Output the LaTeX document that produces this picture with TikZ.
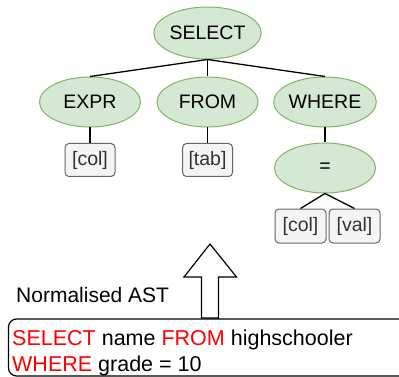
\documentclass[tikz,border=0pt]{standalone}
\usepackage{fontspec}
\setmainfont{Liberation Sans}
\usetikzlibrary{shapes.geometric}
\definecolor{gfill}{HTML}{D5E8D4}
\definecolor{gdraw}{HTML}{82B366}
\definecolor{bfill}{HTML}{F5F5F5}
\definecolor{bdraw}{HTML}{666666}
\definecolor{btext}{HTML}{333333}
\definecolor{kw}{HTML}{FF0000}
\tikzset{
  astnode/.style={ellipse, draw=gdraw, fill=gfill, line width=1pt, minimum width=101pt, minimum height=50pt, inner sep=0pt, font=\fontsize{19.5}{22}\selectfont},
  leaf/.style={rectangle, rounded corners=4pt, draw=bdraw, fill=bfill, line width=1pt, minimum width=50pt, minimum height=33pt, inner sep=0pt, text=btext, font=\fontsize{19.5}{22}\selectfont},
  edge/.style={line width=1.3pt, black}
}
\begin{document}
\begin{tikzpicture}[x=1pt,y=-1pt]
\useasboundingbox (0,0) rectangle (399,377);
\begin{scope}
\clip (0,0) rectangle (399,377);
% nodes
\node[astnode, minimum height=52pt] (sel) at (207.5,33) {SELECT};
\node[astnode] (expr) at (90,102) {EXPR};
\node[astnode] (from) at (207.5,102) {FROM};
\node[astnode] (where) at (325,102) {WHERE};
\node[astnode] (eq) at (325,168) {=};
\node[leaf] (col1) at (90,160) {[col]};
\node[leaf] (tab) at (207.5,160) {[tab]};
\node[leaf, minimum width=51pt, minimum height=34pt] (col2) at (300.5,226) {[col]};
\node[leaf, minimum width=51pt, minimum height=34pt] (val) at (354.5,226) {[val]};
% edges
\draw[edge] (sel.south) -- (expr.north);
\draw[edge] (sel.south) -- (from.north);
\draw[edge] (sel.south) -- (where.north);
\draw[edge] (expr.south) -- (col1.north);
\draw[edge] (from.south) -- (tab.north);
\draw[edge] (where.south) -- (eq.north);
\draw[edge] (eq.south) -- (col2.north);
\draw[edge] (eq.south) -- (val.north);
% big arrow
\draw[line width=1.2pt, fill=white, line join=miter] (201.5,318) -- (201.5,277) -- (184,277) -- (210,244) -- (236.5,277) -- (218.5,277) -- (218.5,318) -- cycle;
% label
\node[anchor=base west, inner sep=0pt, font=\fontsize{21}{24}\selectfont] (lbl) at (16,302) {Normalised AST};
% query box
\draw[line width=1.2pt, rounded corners=8pt, fill=white] (8.5,319) rectangle (430,376);
\node[anchor=base west, inner sep=0pt, font=\fontsize{21.5}{24}\selectfont] (q1) at (12,345) {\textcolor{kw}{SELECT} name \textcolor{kw}{FROM} highschooler};
\node[anchor=base west, inner sep=0pt, font=\fontsize{21.5}{24}\selectfont] (q2) at (12,371) {\textcolor{kw}{WHERE} grade = 10};
\end{scope}
\end{tikzpicture}
\end{document}
